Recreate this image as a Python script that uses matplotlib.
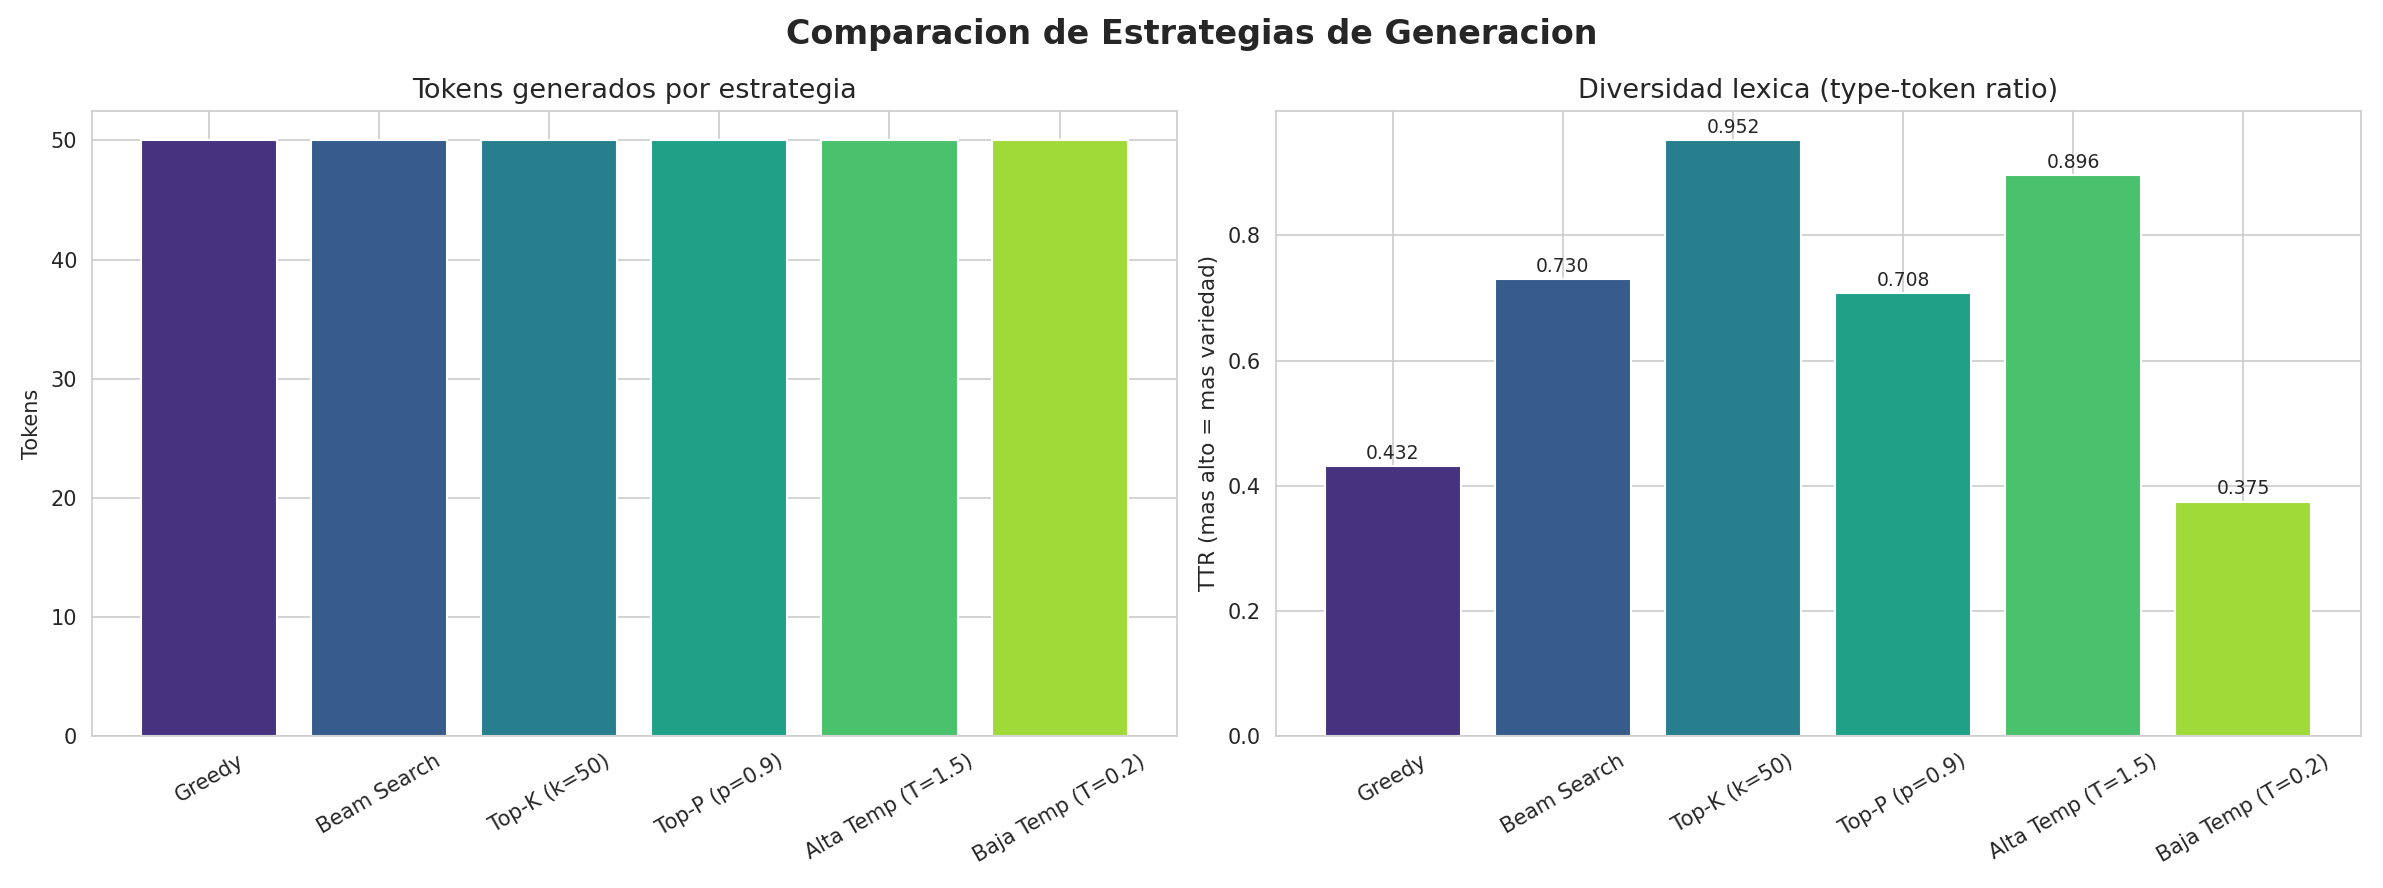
import numpy as np
import matplotlib
matplotlib.use("Agg")
import matplotlib.pyplot as plt
import seaborn as sns

sns.set_style("whitegrid")

# Datos
estrategias = ["Greedy", "Beam Search", "Top-K (k=50)", "Top-P (p=0.9)",
               "Alta Temp (T=1.5)", "Baja Temp (T=0.2)"]
tokens = [50, 50, 50, 50, 50, 50]
ttr = [0.432, 0.730, 0.952, 0.708, 0.896, 0.375]

colores = sns.color_palette("viridis", len(estrategias))

fig, axes = plt.subplots(1, 2, figsize=(2383 / 150, 888 / 150), dpi=150)

# Tokens generados
ax = axes[0]
ax.bar(estrategias, tokens, color=colores)
ax.set_title("Tokens generados por estrategia", fontsize=13)
ax.set_ylabel("Tokens", fontsize=10)
ax.tick_params(axis="x", rotation=30)

# Diversidad lexica
ax = axes[1]
bars = ax.bar(estrategias, ttr, color=colores)
ax.set_title("Diversidad lexica (type-token ratio)", fontsize=13)
ax.set_ylabel("TTR (mas alto = mas variedad)", fontsize=10.3)
ax.tick_params(axis="x", rotation=30)
for b, v in zip(bars, ttr):
    ax.text(b.get_x() + b.get_width() / 2, b.get_height() + 0.005, f"{v:.3f}",
            ha="center", va="bottom", fontsize=9)

fig.suptitle("Comparacion de Estrategias de Generacion", fontsize=16, fontweight="bold")
plt.tight_layout()
plt.savefig("out.png", dpi=150)
